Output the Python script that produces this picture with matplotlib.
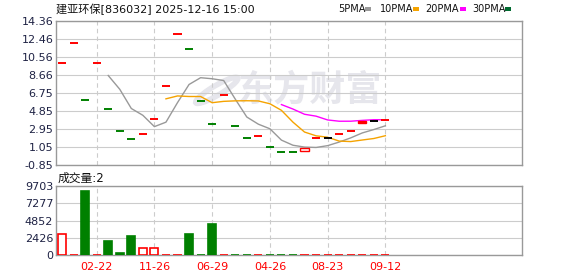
import matplotlib
matplotlib.use("Agg")
import matplotlib.pyplot as plt
from matplotlib.patches import Rectangle, Ellipse
import pandas as pd

plt.rcParams['font.family'] = ['DejaVu Sans', 'Noto Sans CJK SC']

# daily candles (open / close), trend vs previous close: 1 up, -1 down, 0 flat
opens = [10.0, 12.05, 6.0, 10.0, 5.13, 2.7, 1.86, 2.39, 4.0, 7.49,
         13.06, 11.47, 5.98, 3.45, 6.54, 3.24, 1.97, 2.18, 1.02, 0.52,
         0.52, 0.6, 1.98, 1.98, 2.42, 2.74, 3.83, 3.77, 3.97]
closes = [10.0, 12.05, 6.0, 10.0, 5.13, 2.7, 1.86, 2.39, 4.0, 7.49,
          13.06, 11.47, 5.98, 3.45, 6.54, 3.24, 1.97, 2.18, 1.02, 0.52,
          0.52, 1.0, 1.98, 1.98, 2.42, 2.74, 3.62, 3.77, 3.97]
trend = [1, 1, -1, 1, -1, -1, -1, 1, 1, 1,
         1, -1, -1, -1, 1, -1, -1, 1, -1, -1,
         -1, 1, 1, 0, 1, 1, 1, 0, 1]
volumes = [2940, 60, 9000, 60, 2000, 320, 2700, 980, 980, 60,
           60, 2980, 60, 4380, 60, 60, 60, 60, 60, 60,
           60, 60, 60, 60, 60, 60, 60, 60, 2]

price_ticks = [-0.85, 1.05, 2.95, 4.85, 6.75, 8.66, 10.56, 12.46, 14.36]
vol_ticks = [0, 2426, 4852, 7277, 9703]
date_idx = [3, 8, 13, 18, 23, 28]
date_labels = ['02-22', '11-26', '06-29', '04-26', '08-23', '09-12']

ma_names = ['5PMA', '10PMA', '20PMA', '30PMA']
ma_windows = [5, 10, 20, 30]
ma_colors = ['#999999', '#f5a300', '#ff00ff', '#006a30']

RED = '#ff0000'
GREEN = '#008000'
BLACK = '#000000'
TICKC = '#1e2244'

fig = plt.figure(figsize=(5.78, 2.76), dpi=100)
ax = fig.add_axes([0.0969, 0.4022, 0.8062, 0.520])
axv = fig.add_axes([0.0969, 0.075, 0.8062, 0.251])

xlim = (-0.52, 39.83)

for a in (ax, axv):
    a.set_xlim(*xlim)
    for s in a.spines.values():
        s.set_color('#999999')
        s.set_linewidth(1)
    a.tick_params(length=0, labelsize=8, colors=TICKC, pad=2)
    a.set_xticks(date_idx)
    a.grid(axis='x', color='#cccccc', linestyle=(0, (4, 3)), linewidth=0.8)
    a.grid(axis='y', color='#cccccc', linestyle='-', linewidth=0.8)
    a.set_axisbelow(True)

# main price panel
ax.set_ylim(price_ticks[0], price_ticks[-1])
ax.set_yticks(price_ticks)
ax.set_yticklabels(['%.2f' % t for t in price_ticks])
ax.set_xticklabels([])

# watermark
ax.text(0.545, 0.52, '东方财富', transform=ax.transAxes, ha='center', va='center',
        fontsize=26, fontweight='bold', color='#e6e6ec', family='Noto Sans CJK SC',
        zorder=0)
ax.add_patch(Ellipse((0.345, 0.52), 0.035, 0.2, angle=-25, transform=ax.transAxes,
                     facecolor='none', edgecolor='#e6e6ec', linewidth=4, zorder=0))

w = 0.7
for i, (o, c, t) in enumerate(zip(opens, closes, trend)):
    col = RED if t > 0 else (GREEN if t < 0 else BLACK)
    if abs(c - o) < 1e-6:
        ax.hlines(c, i - w / 2, i + w / 2, color=col, linewidth=1.4, zorder=3)
    else:
        hollow = c > o
        ax.add_patch(Rectangle((i - w / 2, min(o, c)), w, abs(c - o),
                               facecolor='white' if hollow else col,
                               edgecolor=col, linewidth=1, zorder=3))

close_s = pd.Series(closes)
for win, col in zip(ma_windows, ma_colors):
    ma = close_s.rolling(win).mean()
    if ma.notna().any():
        ax.plot(range(len(closes)), ma, color=col, linewidth=1, zorder=2)

# volume panel
axv.set_ylim(vol_ticks[0], vol_ticks[-1])
axv.set_yticks(vol_ticks)
axv.set_yticklabels([str(v) for v in vol_ticks])
axv.set_xticklabels(date_labels)
axv.tick_params(axis='x', colors=RED, pad=5)
for i, (v, t) in enumerate(zip(volumes, trend)):
    if t >= 0:
        axv.bar(i, v, width=w, facecolor='white', edgecolor=RED, linewidth=1.2, zorder=3)
    else:
        axv.bar(i, v, width=w, facecolor=GREEN, edgecolor=GREEN, linewidth=1.2, zorder=3)

# header texts
fig.text(0.0969, 0.966, '建亚环保[836032] 2025-12-16 15:00', ha='left', va='center',
         fontsize=8, color='#111111')
fig.text(0.100, 0.355, '成交量:2', ha='left', va='center', fontsize=8.5, color='#111111')

leg_x = [338, 380, 425, 472]
sq_x = [365, 413, 460, 505]
for name, col, xl, xs in zip(ma_names, ma_colors, leg_x, sq_x):
    fig.text(xl / 578, 0.966, name, ha='left', va='center', fontsize=7, color='#111111')
    fig.patches.append(Rectangle((xs / 578, 0.960), 6 / 578, 4 / 276,
                                 transform=fig.transFigure, facecolor=col,
                                 edgecolor='none', figure=fig))

fig.savefig('out.png', dpi=100)
